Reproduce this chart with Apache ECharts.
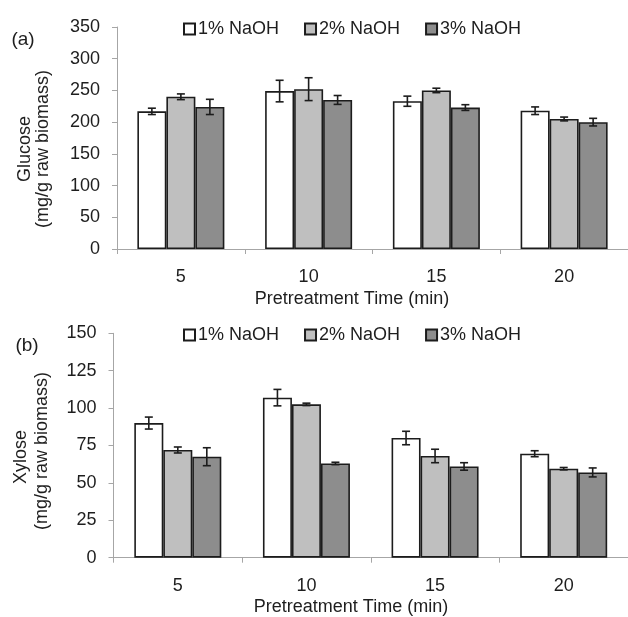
<!DOCTYPE html>
<html>
<head>
<meta charset="utf-8">
<script src="https://cdn.jsdelivr.net/npm/echarts@6/dist/echarts.min.js"></script>
<style>html,body{margin:0;padding:0;background:#fff}#c{width:628px;height:617px}</style>
</head>
<body>
<div id="c"></div>
<script>
// ---- data ----
var categories = ['5', '10', '15', '20'];
var seriesNames = ['1% NaOH', '2% NaOH', '3% NaOH'];
var glucose1 = [217, 249, 233, 218];
var glucose2 = [240, 252, 250, 205];
var glucose3 = [224, 235, 223, 200];
var glucoseErr1 = [5, 17, 8, 6];
var glucoseErr2 = [4.5, 18, 3.5, 3];
var glucoseErr3 = [12, 7, 4.5, 6];
var xylose1 = [90, 107, 80, 69.5];
var xylose2 = [72, 102.5, 68, 59.5];
var xylose3 = [67.5, 63, 61, 57];
var xyloseErr1 = [4, 5.5, 4.5, 2];
var xyloseErr2 = [2, 0.8, 4.5, 0.8];
var xyloseErr3 = [6, 0.8, 2.5, 3];
var glucoseTicks = [0, 50, 100, 150, 200, 250, 300, 350];
var xyloseTicks = [0, 25, 50, 75, 100, 125, 150];
var xTitle = 'Pretreatment Time (min)';
var glucoseTitle = ['Glucose', '(mg/g raw biomass)'];
var xyloseTitle = ['Xylose', '(mg/g raw biomass)'];
var panelLabels = ['(a)', '(b)'];

// ---- style ----
var FONT = 'Liberation Sans, Arial, Helvetica, sans-serif';
var TXT = '#1e1e1e';
var AXIS = '#a6a6a6';
var EDGE = '#1c1c1c';
var fills = ['#ffffff', '#bfbfbf', '#8d8d8d'];
var BAR_W = 29;

var chart = echarts.init(document.getElementById('c'), null, {renderer: 'canvas'});

function xAxis(gi) {
  return {
    type: 'category', gridIndex: gi, data: categories,
    axisLine: {lineStyle: {color: AXIS, width: 1}},
    axisTick: {show: true, length: 5, lineStyle: {color: AXIS}},
    axisLabel: {color: TXT, fontSize: 18, fontFamily: FONT, margin: 19},
    splitLine: {show: false}
  };
}
function yAxis(gi, ticks) {
  return {
    type: 'value', gridIndex: gi, min: ticks[0], max: ticks[ticks.length - 1],
    interval: ticks[1] - ticks[0],
    axisLine: {show: true, lineStyle: {color: AXIS, width: 1}},
    axisTick: {show: true, length: 5, lineStyle: {color: AXIS}},
    axisLabel: {color: TXT, fontSize: 18, fontFamily: FONT, margin: 17},
    splitLine: {show: false}
  };
}

var values = [[glucose1, glucose2, glucose3], [xylose1, xylose2, xylose3]];
var errors = [[glucoseErr1, glucoseErr2, glucoseErr3], [xyloseErr1, xyloseErr2, xyloseErr3]];

var series = [];
for (var g = 0; g < 2; g++) {
  for (var i = 0; i < 3; i++) {
    series.push({
      name: seriesNames[i], type: 'bar', xAxisIndex: g, yAxisIndex: g,
      data: values[g][i], barWidth: BAR_W, barGap: '0%',
      itemStyle: {color: fills[i], borderColor: EDGE, borderWidth: 1.6},
      emphasis: {disabled: true}, z: 2
    });
  }
  for (var j = 0; j < 3; j++) {
    (function (g, j) {
      var d = values[g][j].map(function (v, k) { return [k, v, errors[g][j][k]]; });
      series.push({
        type: 'custom', xAxisIndex: g, yAxisIndex: g, data: d, z: 5,
        renderItem: function (params, api) {
          var k = api.value(0), v = api.value(1), e = api.value(2);
          var top = api.coord([k, v + e]);
          var bot = api.coord([k, v - e]);
          var x = top[0] + (j - 1) * BAR_W;
          var cap = 4;
          var st = {stroke: EDGE, lineWidth: 1.6};
          return {type: 'group', children: [
            {type: 'line', shape: {x1: x, y1: top[1], x2: x, y2: bot[1]}, style: st},
            {type: 'line', shape: {x1: x - cap, y1: top[1], x2: x + cap, y2: top[1]}, style: st},
            {type: 'line', shape: {x1: x - cap, y1: bot[1], x2: x + cap, y2: bot[1]}, style: st}
          ]};
        }
      });
    })(g, j);
  }
}

function legend(top) {
  return {
    data: seriesNames, left: 183, top: top, icon: 'rect',
    itemWidth: 11, itemHeight: 11, itemGap: 25, padding: 0,
    textStyle: {color: TXT, fontSize: 18, fontFamily: FONT, padding: [0, 0, 0, -2]},
    selectedMode: false
  };
}

function txt(x, y, s, size, rot) {
  return {type: 'text', x: x, y: y, rotation: rot || 0,
    style: {text: s, fill: TXT, font: size + 'px ' + FONT, textAlign: 'center', textVerticalAlign: 'middle'}};
}

var option = {
  animation: false,
  backgroundColor: '#fff',
  grid: [
    {left: 117, right: -8, top: 27, bottom: 368},
    {left: 113.5, right: -8, top: 333.3, bottom: 59.3}
  ],
  xAxis: [xAxis(0), xAxis(1)],
  yAxis: [yAxis(0, glucoseTicks), yAxis(1, xyloseTicks)],
  legend: [legend(20), legend(326)],
  series: series,
  graphic: [
    txt(23, 40, panelLabels[0], 19),
    txt(27, 346, panelLabels[1], 19),
    txt(25, 149, glucoseTitle[0], 18, Math.PI / 2),
    txt(43, 149, glucoseTitle[1], 18, Math.PI / 2),
    txt(21, 457, xyloseTitle[0], 18, Math.PI / 2),
    txt(42, 451, xyloseTitle[1], 18, Math.PI / 2),
    txt(352, 299, xTitle, 18),
    txt(351, 607, xTitle, 18)
  ]
};
chart.setOption(option);
</script>
</body>
</html>
